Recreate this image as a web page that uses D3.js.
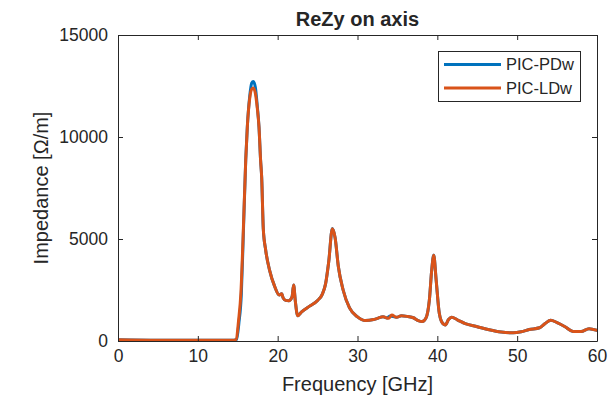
<!DOCTYPE html>
<html>
<head>
<meta charset="utf-8">
<script src="https://cdn.jsdelivr.net/npm/d3@7"></script>
<style>
  html, body { margin: 0; padding: 0; background: #fff; }
  svg { display: block; }
  text { font-family: "Liberation Sans", Arial, Helvetica, sans-serif; fill: #262626; }
</style>
</head>
<body>
<svg id="chart" width="610" height="400"></svg>
<script>
// ---- data ----
const freqLDw = [0, 5, 10, 14.5, 14.8, 15.1, 15.4, 15.66, 16.0, 16.2, 16.5, 16.75, 16.95, 17.2, 17.45, 17.66, 17.86, 18.0, 18.2, 18.5, 19.0, 19.6, 20.2, 20.5, 20.7, 21.0, 21.4, 21.8, 22.0, 22.2, 22.5, 23.0, 24.0, 25.0, 25.6, 26.0, 26.4, 26.85, 27.2, 27.6, 28.2, 29.0, 30.0, 31.0, 32.0, 32.5, 33.2, 33.9, 34.3, 34.9, 35.5, 36.3, 37.0, 37.6, 38.1, 38.6, 39.0, 39.3, 39.55, 39.85, 40.25, 40.7, 41.0, 41.4, 41.8, 42.5, 43.5, 45.0, 46.5, 48.0, 49.5, 50.5, 51.5, 52.8, 53.5, 54.2, 55.0, 56.0, 57.0, 58.0, 59.0, 60.0];
const valLDw = [60, 40, 40, 40, 80, 1000, 2400, 5000, 8870, 10500, 11900, 12350, 12400, 12150, 11400, 10500, 8870, 8000, 5500, 4450, 3450, 2700, 2250, 2320, 2100, 1990, 1970, 2160, 2750, 2000, 1240, 1430, 1710, 1990, 2300, 2800, 3900, 5500, 5050, 3650, 2500, 1620, 1180, 1000, 1050, 1110, 1190, 1110, 1270, 1160, 1240, 1200, 1140, 1000, 950, 1150, 2000, 3500, 4200, 3000, 1350, 850, 790, 1050, 1160, 1040, 850, 700, 550, 440, 400, 450, 560, 650, 860, 1020, 900, 700, 470, 460, 600, 520];
const freqPDw = [0, 5, 10, 14.5, 14.85, 15.15, 15.45, 15.68, 16.0, 16.2, 16.5, 16.75, 16.95, 17.2, 17.45, 17.66, 17.86, 18.0, 18.2, 18.5, 19.0, 19.6, 20.2, 20.5, 20.7, 21.0, 21.4, 21.8, 22.0, 22.2, 22.5, 23.0, 24.0, 25.0, 25.6, 26.0, 26.4, 26.85, 27.2, 27.6, 28.2, 29.0, 30.0, 31.0, 32.0, 32.5, 33.2, 33.7, 34.1, 34.9, 35.5, 36.3, 37.0, 37.6, 38.1, 38.6, 39.0, 39.3, 39.55, 39.85, 40.25, 40.7, 41.0, 41.4, 41.8, 42.5, 43.5, 45.0, 46.5, 48.0, 49.5, 50.5, 51.5, 52.8, 53.5, 54.2, 55.0, 56.0, 57.0, 58.0, 59.0, 60.0];
const valPDw = [60, 40, 40, 40, 80, 900, 2300, 5000, 8870, 10500, 12000, 12650, 12720, 12450, 11500, 10500, 8870, 8000, 5500, 4450, 3450, 2700, 2250, 2320, 2100, 1990, 1970, 2160, 2750, 2000, 1240, 1430, 1710, 1990, 2300, 2800, 3900, 5520, 5050, 3650, 2500, 1620, 1180, 1000, 1050, 1110, 1190, 1130, 1230, 1160, 1240, 1200, 1140, 1000, 950, 1150, 2000, 3500, 4220, 3000, 1350, 850, 790, 1050, 1160, 1040, 850, 700, 550, 440, 400, 450, 560, 650, 860, 1020, 900, 700, 470, 460, 600, 520];
const seriesNames = ["PIC-PDw", "PIC-LDw"];
const seriesColors = ["#0072BD", "#D95319"];
const xTicks = [0, 10, 20, 30, 40, 50, 60];
const yTicks = [0, 5000, 10000, 15000];
const titleText = "ReZy on axis";
const xLabel = "Frequency [GHz]";
const yLabel = "Impedance [Ω/m]";

// ---- layout ----
const L = 118, R = 597, T = 35, B = 341;
const svg = d3.select("#chart");
const x = d3.scaleLinear().domain([0, 60]).range([L, R]);
const y = d3.scaleLinear().domain([0, 15000]).range([B, T]);
const axisColor = "#262626";

// clip
svg.append("clipPath").attr("id", "clip").append("rect")
  .attr("x", L).attr("y", T).attr("width", R - L).attr("height", B - T);

// lines
const series = [
  { f: freqPDw, v: valPDw },
  { f: freqLDw, v: valLDw }
];
const line = d3.line().x(d => x(d[0])).y(d => y(d[1])).curve(d3.curveMonotoneX);
series.forEach((s, i) => {
  const pts = s.f.map((f, k) => [f, s.v[k]]);
  svg.append("path").attr("clip-path", "url(#clip)")
    .attr("d", line(pts)).attr("fill", "none")
    .attr("stroke", seriesColors[i]).attr("stroke-width", 3)
    .attr("stroke-linejoin", "round").attr("stroke-linecap", "round");
});

// axes
const fs = 17.5;
const xAxB = svg.append("g").attr("transform", `translate(0,${B})`)
  .call(d3.axisBottom(x).tickValues(xTicks).tickSizeInner(-5).tickSizeOuter(0).tickPadding(9).tickFormat(d3.format("d")));
const xAxT = svg.append("g").attr("transform", `translate(0,${T})`)
  .call(d3.axisTop(x).tickValues(xTicks).tickSizeInner(-5).tickSizeOuter(0).tickFormat(""));
const yAxL = svg.append("g").attr("transform", `translate(${L},0)`)
  .call(d3.axisLeft(y).tickValues(yTicks).tickSizeInner(-5).tickSizeOuter(0).tickPadding(10).tickFormat(d3.format("d")));
const yAxR = svg.append("g").attr("transform", `translate(${R},0)`)
  .call(d3.axisRight(y).tickValues(yTicks).tickSizeInner(-5).tickSizeOuter(0).tickFormat(""));
[xAxB, xAxT, yAxL, yAxR].forEach(g => {
  g.selectAll("path").attr("stroke", axisColor).attr("stroke-width", 1);
  g.selectAll("line").attr("stroke", axisColor).attr("stroke-width", 1);
  g.selectAll("text").attr("font-size", fs).attr("fill", axisColor)
    .style("font-family", '"Liberation Sans", Arial, sans-serif');
});
xAxB.selectAll("text").attr("dy", "0.71em");

// title and labels
svg.append("text").attr("x", (L + R) / 2).attr("y", 26).attr("text-anchor", "middle")
  .attr("font-size", 20).attr("font-weight", "bold").attr("fill", "#000").text(titleText);
svg.append("text").attr("x", (L + R) / 2).attr("y", 391).attr("text-anchor", "middle")
  .attr("font-size", 20).text(xLabel);
svg.append("text").attr("transform", `translate(47.5,${(T + B) / 2}) rotate(-90)`)
  .attr("text-anchor", "middle").attr("font-size", 20).text(yLabel);

// legend
const lg = svg.append("g");
lg.append("rect").attr("x", 438.5).attr("y", 51.5).attr("width", 142).attr("height", 50)
  .attr("fill", "#fff").attr("stroke", "#262626").attr("stroke-width", 1);
seriesNames.forEach((n, i) => {
  const yy = 64.5 + i * 23.5;
  lg.append("line").attr("x1", 444).attr("x2", 501).attr("y1", yy).attr("y2", yy)
    .attr("stroke", seriesColors[i]).attr("stroke-width", 3);
  lg.append("text").attr("x", 506).attr("y", yy).attr("dy", "0.36em")
    .attr("font-size", 16.5).text(n);
});
</script>
</body>
</html>
